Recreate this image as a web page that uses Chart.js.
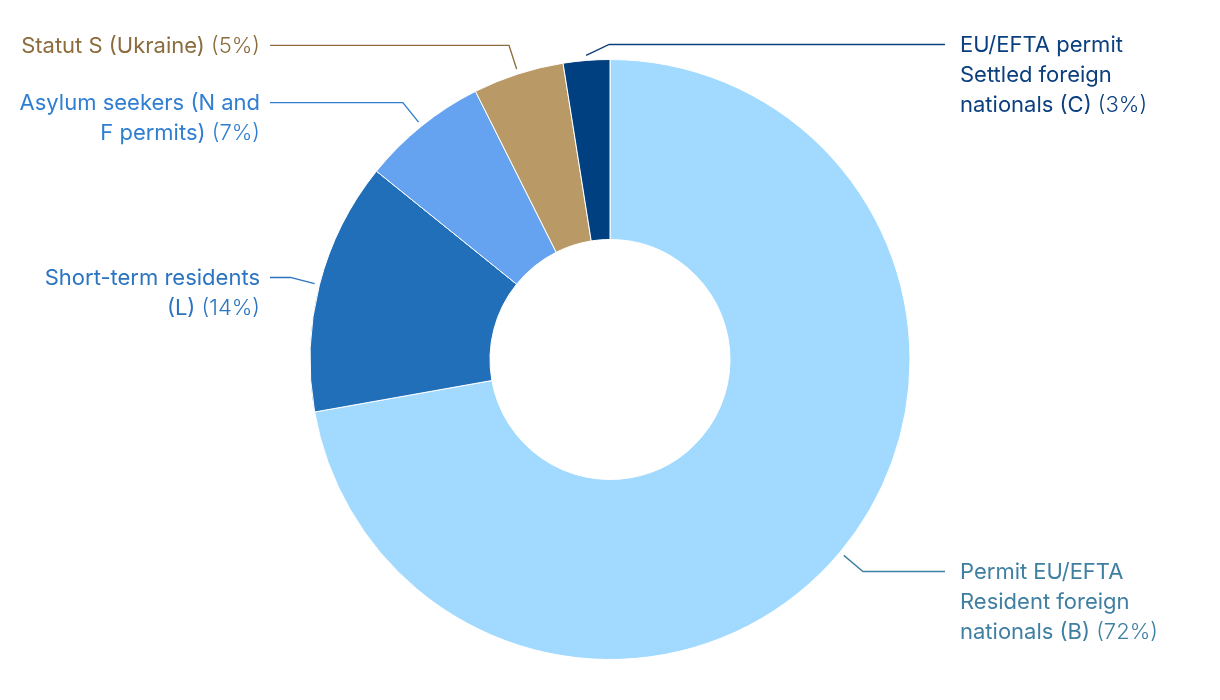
<!DOCTYPE html>
<html>
<head>
<meta charset="utf-8">
<script src="https://cdn.jsdelivr.net/npm/chart.js@4.4.1/dist/chart.umd.min.js"></script>
<style>
  body { margin: 0; background: #fff; }
  #wrap { width: 1220px; height: 700px; position: relative; }
</style>
</head>
<body>
<div id="wrap"><canvas id="permitChart"></canvas></div>
<script>
// permit categories, clockwise from 12 o'clock
const categories = [
  'Permit EU/EFTA Resident foreign nationals (B)',
  'Short-term residents (L)',
  'Asylum seekers (N and F permits)',
  'Statut S (Ukraine)',
  'EU/EFTA permit Settled foreign nationals (C)'
];
const shares = [72.2, 13.6, 6.8, 4.9, 2.5];
const labelLines = [
  ['Permit EU/EFTA', 'Resident foreign', 'nationals (B)'],
  ['Short-term residents', '(L)'],
  ['Asylum seekers (N and', 'F permits)'],
  ['Statut S (Ukraine)'],
  ['EU/EFTA permit', 'Settled foreign', 'nationals (C)']
];
const sliceColors = ['#a1dafe', '#206fb8', '#65a3f0', '#b99a67', '#003f80'];
const textColors = ['#3f7fa2', '#2a74c0', '#2f7ed2', '#8c6c3c', '#0b3f7e'];
const labelSide = ['right', 'left', 'left', 'left', 'right'];

// leader line elbow tweaks (extra radius, x shift) per slice
const elbowR = [30, 30, 30, 30, 16];
const elbowDx = [0, 0, 0, 0, 24];

const FONT = 'Inter, "Noto Sans", sans-serif';

const outsideLabels = {
  id: 'outsideLabels',
  afterDatasetsDraw(chart) {
    const ctx = chart.ctx;
    const meta = chart.getDatasetMeta(0);
    const total = shares.reduce((a, b) => a + b, 0);
    meta.data.forEach((arc, i) => {
      const { x, y, startAngle, endAngle, outerRadius } = arc.getProps(['x', 'y', 'startAngle', 'endAngle', 'outerRadius'], true);
      const mid = (startAngle + endAngle) / 2;
      const r0 = outerRadius + 5;
      const r1 = outerRadius + elbowR[i];
      const p0x = x + Math.cos(mid) * r0, p0y = y + Math.sin(mid) * r0;
      const p1x = x + Math.cos(mid) * r1 + elbowDx[i], p1y = y + Math.sin(mid) * r1;
      const right = labelSide[i] === 'right';
      const lineEnd = right ? 945 : 270;
      const textX = right ? 960 : 260;

      ctx.save();
      ctx.strokeStyle = textColors[i];
      ctx.lineWidth = 1.4;
      ctx.beginPath();
      ctx.moveTo(p0x, p0y);
      ctx.lineTo(p1x, p1y);
      ctx.lineTo(lineEnd, p1y);
      ctx.stroke();

      const pct = ' (' + Math.round(shares[i] / total * 100) + '%)';
      const lines = labelLines[i];
      ctx.fillStyle = textColors[i];
      ctx.textBaseline = 'middle';
      const fontName = '400 22px ' + FONT;
      const fontPct = '300 22px ' + FONT;
      lines.forEach((ln, k) => {
        const ly = p1y + 1 + k * 30;
        const last = k === lines.length - 1;
        ctx.font = fontPct;
        const pw = last ? ctx.measureText(pct).width : 0;
        ctx.font = fontName;
        const nw = ctx.measureText(ln).width;
        const sx = right ? textX : textX - nw - pw;
        ctx.textAlign = 'left';
        ctx.fillText(ln, sx, ly);
        if (last) {
          ctx.font = fontPct;
          ctx.fillText(pct, sx + nw, ly);
        }
      });
      ctx.restore();
    });
  }
};

const ctx = document.getElementById('permitChart').getContext('2d');
new Chart(ctx, {
  type: 'doughnut',
  data: {
    labels: categories,
    datasets: [{
      data: shares,
      backgroundColor: sliceColors,
      borderColor: '#ffffff',
      borderWidth: 1,
      hoverOffset: 0
    }]
  },
  options: {
    responsive: true,
    maintainAspectRatio: false,
    animation: false,
    cutout: '40%',
    layout: {
      padding: { top: 59, bottom: 40 }
    },
    plugins: {
      legend: { display: false },
      tooltip: { enabled: false }
    }
  },
  plugins: [outsideLabels]
});
</script>
</body>
</html>
